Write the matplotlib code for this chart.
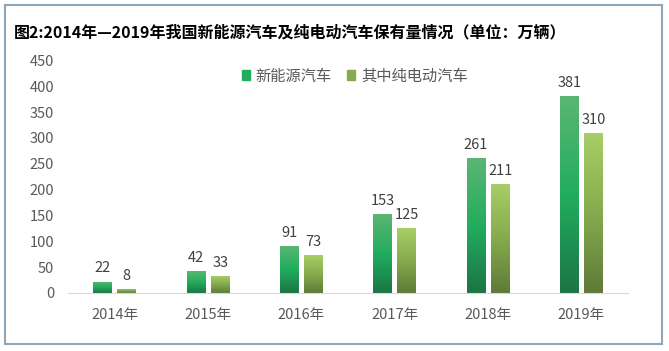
import numpy as np
import matplotlib
matplotlib.use('Agg')
from matplotlib import pyplot as plt
from matplotlib.colors import LinearSegmentedColormap
from matplotlib.patches import Rectangle

plt.rcParams['font.family'] = ['Noto Sans CJK SC', 'DejaVu Sans']

years = ['2014年', '2015年', '2016年', '2017年', '2018年', '2019年']
new_energy = [22, 42, 91, 153, 261, 381]
pure_electric = [8, 33, 73, 125, 211, 310]
series_names = ['新能源汽车', '其中纯电动汽车']
title = '图2:2014年—2019年我国新能源汽车及纯电动汽车保有量情况（单位：万辆）'

# gradient bottom -> top
cmap_ne = LinearSegmentedColormap.from_list(
    'ne', [(0, '#1b7546'), (0.5, '#22ad5e'), (1, '#5bb673')])
cmap_pe = LinearSegmentedColormap.from_list(
    'pe', [(0, '#5f7a38'), (0.5, '#86ab4e'), (1, '#a8cf66')])

fig = plt.figure(figsize=(6.69, 3.51), dpi=100)
fig.patches.append(Rectangle((5 / 669, 1 - 344 / 351), 657 / 669, 339 / 351,
                             transform=fig.transFigure, fill=False,
                             edgecolor='#8ea7ba', linewidth=1.5))

ax = fig.add_axes([68 / 669, 1 - 293 / 351, 560 / 669, 232.5 / 351])
x = np.arange(len(years))
w = 0.2
gap = 0.06
b1 = ax.bar(x - (w + gap) / 2, new_energy, w, color='#22ad5e', zorder=1)
b2 = ax.bar(x + (w + gap) / 2, pure_electric, w, color='#86ab4e', zorder=1)

grad = np.linspace(0, 1, 256).reshape(-1, 1)
for bars, cmap in [(b1, cmap_ne), (b2, cmap_pe)]:
    for p in bars:
        x0, y0 = p.get_x(), p.get_y()
        im = ax.imshow(grad, cmap=cmap, origin='lower', aspect='auto',
                       extent=[x0, x0 + p.get_width(), y0, y0 + p.get_height()],
                       zorder=2)
        im.set_clip_path(p)
    for p in bars:
        ax.text(p.get_x() + p.get_width() / 2, p.get_height() + 12,
                '{:d}'.format(int(p.get_height())), ha='center', va='bottom',
                fontsize=10.5, color='#404040')

ax.set_xlim(-0.5, len(years) - 0.5)
ax.set_ylim(0, 450)
ax.set_yticks(np.arange(0, 451, 50))
ax.set_xticks(x)
ax.set_xticklabels(years)
for s in ['top', 'right', 'left']:
    ax.spines[s].set_visible(False)
ax.spines['bottom'].set_color('#d9d9d9')
ax.tick_params(axis='both', length=0, colors='#595959', labelsize=10.5)
ax.tick_params(axis='x', pad=11)
ax.tick_params(axis='y', pad=10)

# legend
leg_handles = [Rectangle((0, 0), 1, 1, color='#22ad5e'),
               Rectangle((0, 0), 1, 1, color='#86ab4e')]
fig.legend(leg_handles, series_names, loc='center left',
           bbox_to_anchor=(228 / 669, 1 - 76 / 351), ncol=2, frameon=False,
           handlelength=0.55, handleheight=0.6, handletextpad=0.35,
           columnspacing=1.0, fontsize=11, labelcolor='#595959')

fig.text(14 / 669, 1 - 32 / 351, title, fontsize=11.5, fontweight='bold',
         color='#000000', va='center', ha='left')

fig.savefig('out.png', dpi=100)
